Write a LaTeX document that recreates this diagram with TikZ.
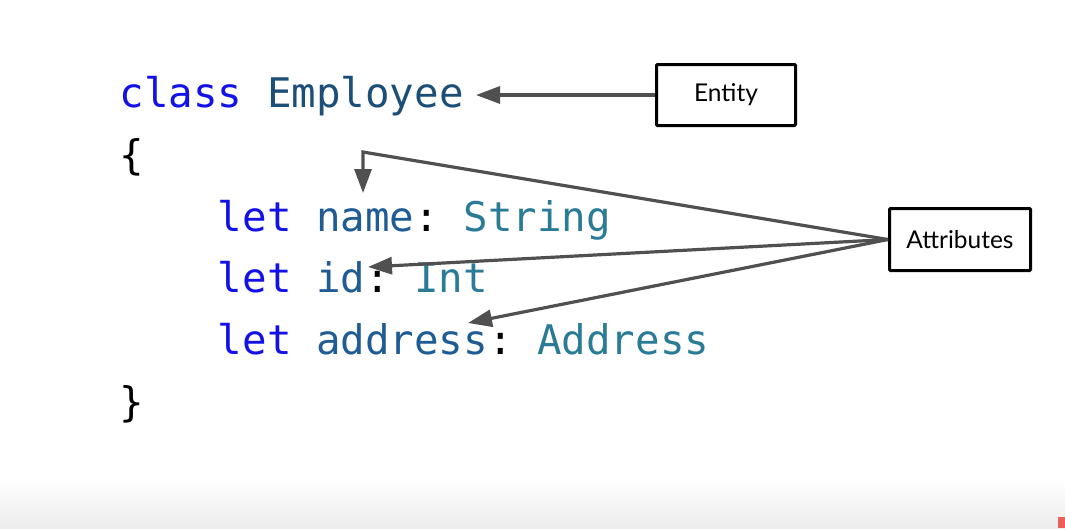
\documentclass[tikz,border=0pt]{standalone}
\usepackage{fontspec}
\setmainfont{Lato}
\setmonofont{DejaVu Sans Mono}
\usetikzlibrary{arrows.meta}
\definecolor{kw}{HTML}{1212E8}
\definecolor{ident}{HTML}{1F5C93}
\definecolor{cls}{HTML}{1B4F78}
\definecolor{typ}{HTML}{2A7B96}
\definecolor{arrgray}{HTML}{505050}
\definecolor{shadow}{HTML}{ECECEC}
\definecolor{redmark}{HTML}{E8605A}
\tikzset{
  code/.style={anchor=base west, inner sep=0pt, font=\ttfamily\fontsize{40.8}{48}\selectfont},
  labelbox/.style={draw=black, line width=3pt, fill=white, rounded corners=1pt, inner sep=0pt, font=\fontsize{24.5}{28}\selectfont},
  arr/.style={draw=arrgray, line width=3.2pt, -{Triangle[length=24pt,width=17pt]}, line join=miter}
}
\begin{document}
\begin{tikzpicture}[x=1pt,y=-1pt]
\useasboundingbox (0,0) rectangle (1065,528);
\fill[white] (0,0) rectangle (1065,528);
\shade[top color=white, bottom color=shadow] (0,478) rectangle (1065,528);
\fill[redmark] (1058,517) rectangle (1065,528);
% code
\node[code] (l1) at (119.5,107) {\textcolor{kw}{class} \textcolor{cls}{Employee}};
\node[code] (l2) at (119.5,169) {\{};
\node[code] (l3) at (217.7,231) {\textcolor{kw}{let} \textcolor{ident}{name}: \textcolor{typ}{String}};
\node[code] (l4) at (217.7,292) {\textcolor{kw}{let} \textcolor{ident}{id}: \textcolor{typ}{Int}};
\node[code] (l5) at (217.7,354) {\textcolor{kw}{let} \textcolor{ident}{address}: \textcolor{typ}{Address}};
\node[code] (l6) at (119.5,416) {\}};
% boxes
\node[labelbox, minimum width=139pt, minimum height=61pt] (entity) at (726,95) {Entity};
\node[labelbox, minimum width=141pt, minimum height=62pt] (attr) at (960,239.5) {Attributes};
% arrow targets
\coordinate (entTip) at (476,95);
\coordinate (bend) at (363,152);
\coordinate (nameTip) at (363,193);
\coordinate (idTip) at (368,267);
\coordinate (addrTip) at (468,323);
% arrows
\draw[arr] (entity.west) -- (entTip);
\draw[arr] (attr.west) -- (bend) -- (nameTip);
\draw[arr] (attr.west) -- (idTip);
\draw[arr] (attr.west) -- (addrTip);
\end{tikzpicture}
\end{document}
